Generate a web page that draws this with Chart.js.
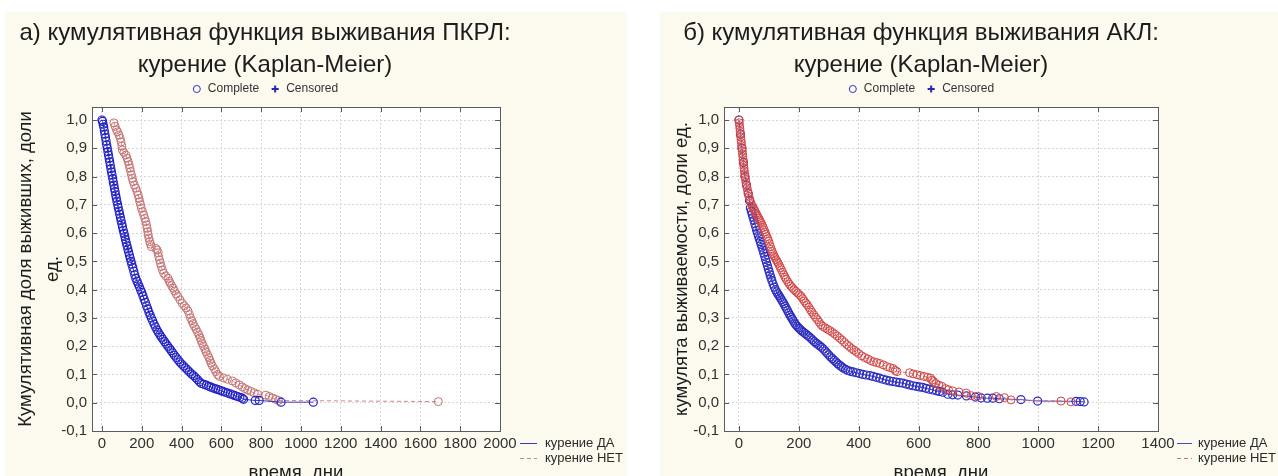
<!DOCTYPE html>
<html><head><meta charset="utf-8">
<script src="https://cdn.jsdelivr.net/npm/chart.js@4.4.0/dist/chart.umd.min.js"></script>
<style>
html,body{margin:0;padding:0;background:#fff;width:1278px;height:476px;overflow:hidden;position:relative;}
.panel{position:absolute;background:#fcf9ee;top:12px;height:464px;}
#pl{left:5px;width:622px;}
#pr{left:660px;width:618px;}
.wrap{position:absolute;top:0;height:490px;}
#wl{left:0;width:640px;}
#wr{left:640px;width:638px;}
</style></head><body>
<div class="panel" id="pl"></div><div class="panel" id="pr"></div>
<div class="wrap" id="wl"><canvas id="cl" width="640" height="490"></canvas></div>
<div class="wrap" id="wr"><canvas id="cr" width="638" height="490"></canvas></div>
<script>
// ---------- texts ----------
const titleLeft = ['а) кумулятивная функция выживания ПКРЛ:', 'курение (Kaplan-Meier)'];
const titleRight = ['б) кумулятивная функция выживания АКЛ:', 'курение (Kaplan-Meier)'];
const yTitleLeft = ['Кумулятивная доля выживших, доли', 'ед.'];
const yTitleRight = 'кумулята выживаемости, доли ед.';
const xTitle = 'время, дни';
const seriesLabels = ['курение ДА', 'курение НЕТ'];
const markerLabels = ['Complete', 'Censored'];

// ---------- ticks ----------
const yTicks = [-0.1, 0, 0.1, 0.2, 0.3, 0.4, 0.5, 0.6, 0.7, 0.8, 0.9, 1.0];
const xTicksLeft = [0, 200, 400, 600, 800, 1000, 1200, 1400, 1600, 1800, 2000];
const xTicksRight = [0, 200, 400, 600, 800, 1000, 1200, 1400];

// ---------- data: [days, survival] ----------
const leftYes = [[0,1.0],[3,0.995],[6,0.985],[9,0.975],[12,0.962],[15,0.95],[18,0.938],[21,0.925],[24,0.912],[27,0.9],
[30,0.888],[33,0.876],[36,0.864],[39,0.852],[42,0.84],[45,0.828],[48,0.816],[51,0.805],[54,0.793],[57,0.781],
[60,0.77],[63,0.758],[66,0.747],[69,0.735],[72,0.724],[75,0.713],[79,0.701],[82,0.69],[86,0.678],[89,0.667],
[93,0.655],[96,0.644],[100,0.633],[103,0.622],[107,0.61],[111,0.599],[115,0.588],[118,0.577],[122,0.566],[126,0.555],
[130,0.544],[134,0.533],[138,0.522],[142,0.511],[146,0.5],[150,0.49],[155,0.478],[160,0.465],[165,0.452],[170,0.44],
[176,0.43],[182,0.42],[188,0.41],[194,0.4],[200,0.39],[206,0.378],[212,0.366],[218,0.355],[224,0.343],[230,0.332],
[236,0.32],[242,0.31],[248,0.3],[255,0.289],[262,0.278],[269,0.268],[276,0.258],[283,0.249],[291,0.24],[299,0.232],
[307,0.224],[315,0.216],[323,0.208],[331,0.2],[340,0.192],[348,0.184],[356,0.176],[364,0.168],[373,0.16],[382,0.152],
[391,0.144],[400,0.137],[410,0.13],[420,0.123],[430,0.116],[440,0.109],[450,0.102],[460,0.096],[470,0.089],[480,0.082],
[490,0.074],[500,0.068],[512,0.065],[525,0.062],[537,0.058],[548,0.055],[560,0.052],[572,0.049],[584,0.046],[596,0.043],
[608,0.04],[620,0.037],[632,0.034],[645,0.031],[657,0.028],[669,0.025],[681,0.022],[693,0.019],[705,0.016],[712,0.012],
[770,0.008],[790,0.008],[900,0.002],[1062,0.002]];

const leftNo = [[60,0.99],[66,0.978],[73,0.965],[78,0.958],[86,0.947],[92,0.935],[96,0.922],[100,0.908],[103,0.894],[110,0.885],
[120,0.876],[126,0.865],[132,0.853],[136,0.842],[140,0.83],[144,0.818],[148,0.806],[152,0.794],[157,0.782],[163,0.77],
[170,0.759],[176,0.747],[182,0.735],[186,0.723],[190,0.711],[194,0.7],[198,0.688],[204,0.676],[210,0.664],[215,0.652],
[220,0.641],[224,0.629],[227,0.617],[230,0.605],[232,0.594],[236,0.582],[240,0.57],[244,0.561],[248,0.552],[270,0.546],
[277,0.54],[282,0.53],[285,0.517],[289,0.505],[293,0.494],[298,0.482],[304,0.47],[310,0.458],[320,0.449],[332,0.44],
[338,0.43],[343,0.423],[350,0.414],[358,0.405],[365,0.395],[373,0.385],[382,0.376],[392,0.364],[403,0.352],[413,0.343],
[423,0.335],[432,0.325],[440,0.312],[445,0.3],[452,0.29],[458,0.28],[465,0.27],[473,0.26],[480,0.25],[487,0.24],
[493,0.23],[498,0.22],[504,0.21],[510,0.2],[517,0.19],[523,0.18],[530,0.17],[537,0.16],[543,0.15],[548,0.14],
[555,0.13],[565,0.12],[572,0.11],[580,0.1],[590,0.093],[610,0.088],[630,0.083],[655,0.077],[672,0.07],[690,0.063],
[705,0.056],[718,0.05],[732,0.045],[748,0.04],[765,0.035],[782,0.03],[823,0.027],[840,0.022],[857,0.017],[872,0.012],
[887,0.008],[1690,0.004]];

const rightYes = [[0,1.0],[5,0.95],[10,0.9],[15,0.85],[20,0.8],[25,0.77],[31,0.74],[35,0.715],[38,0.69],[41,0.678],
[44,0.667],[47,0.656],[50,0.645],[53,0.633],[56,0.622],[59,0.61],[62,0.6],[65,0.59],[68,0.58],[71,0.57],
[74,0.56],[77,0.55],[80,0.54],[83,0.529],[86,0.518],[89,0.507],[92,0.496],[95,0.485],[98,0.474],[101,0.463],
[104,0.452],[107,0.442],[110,0.432],[114,0.42],[118,0.409],[122,0.4],[126,0.392],[130,0.385],[134,0.378],[138,0.371],
[142,0.364],[146,0.357],[150,0.35],[154,0.342],[158,0.334],[162,0.326],[166,0.318],[170,0.31],[174,0.303],[178,0.296],
[182,0.289],[186,0.282],[190,0.276],[195,0.27],[200,0.264],[205,0.259],[210,0.254],[216,0.249],[222,0.244],[228,0.239],
[234,0.234],[240,0.228],[246,0.222],[252,0.216],[258,0.211],[264,0.206],[270,0.201],[276,0.196],[282,0.19],[288,0.183],
[294,0.176],[300,0.169],[306,0.162],[312,0.156],[318,0.15],[324,0.144],[330,0.138],[336,0.133],[342,0.128],[348,0.123],
[356,0.118],[364,0.114],[372,0.111],[381,0.109],[392,0.106],[403,0.103],[414,0.1],[425,0.098],[437,0.096],[448,0.093],
[459,0.09],[470,0.087],[481,0.083],[492,0.08],[503,0.077],[514,0.075],[525,0.073],[536,0.071],[548,0.069],[559,0.066],
[570,0.063],[581,0.06],[592,0.058],[603,0.056],[614,0.054],[625,0.051],[636,0.048],[648,0.045],[660,0.042],[670,0.04],
[681,0.037],[698,0.03],[714,0.028],[731,0.027],[760,0.024],[790,0.02],[809,0.017],[830,0.016],[848,0.016],[870,0.014],
[942,0.011],[998,0.006],[1126,0.005],[1140,0.004],[1153,0.003]];

const rightNo = [[0,1.0],[1,0.99],[2,0.98],[3,0.97],[4,0.96],[5,0.95],[6,0.94],[7,0.93],[8,0.92],[9,0.91],
[10,0.9],[11,0.89],[12,0.88],[13,0.87],[14,0.86],[15,0.85],[16,0.84],[17,0.83],[18,0.82],[19,0.81],
[20,0.8],[22,0.79],[23,0.78],[25,0.77],[27,0.76],[29,0.75],[31,0.74],[33,0.73],[36,0.72],[39,0.71],
[42,0.7],[45,0.695],[48,0.688],[51,0.683],[54,0.677],[57,0.67],[60,0.664],[63,0.658],[66,0.652],[69,0.646],
[72,0.64],[75,0.634],[78,0.627],[81,0.62],[84,0.612],[87,0.604],[90,0.596],[93,0.588],[96,0.58],[99,0.572],
[102,0.562],[105,0.552],[108,0.543],[111,0.535],[114,0.527],[117,0.52],[120,0.514],[124,0.506],[128,0.499],[131,0.493],
[135,0.485],[138,0.478],[142,0.47],[146,0.461],[150,0.452],[154,0.444],[158,0.436],[163,0.428],[168,0.42],[173,0.413],
[178,0.407],[184,0.4],[190,0.394],[196,0.388],[202,0.382],[208,0.376],[213,0.368],[218,0.36],[223,0.353],[228,0.346],
[234,0.337],[239,0.328],[244,0.32],[250,0.311],[256,0.302],[262,0.294],[268,0.285],[274,0.276],[280,0.27],[288,0.265],
[296,0.26],[304,0.255],[312,0.249],[320,0.243],[328,0.236],[336,0.229],[344,0.222],[352,0.214],[360,0.206],[368,0.199],
[376,0.192],[384,0.186],[392,0.18],[400,0.174],[410,0.166],[420,0.16],[430,0.155],[440,0.149],[450,0.145],[460,0.142],
[470,0.139],[482,0.134],[494,0.128],[505,0.124],[515,0.121],[522,0.114],[528,0.11],[570,0.106],[582,0.102],[595,0.099],
[606,0.096],[618,0.093],[630,0.09],[640,0.087],[645,0.08],[650,0.075],[658,0.068],[668,0.062],[678,0.058],[690,0.05],
[700,0.046],[714,0.042],[735,0.038],[759,0.034],[776,0.025],[798,0.023],[860,0.022],[887,0.018],[909,0.01],[1076,0.006],
[1109,0.003]];

// ---------- helpers ----------
const FONT = "'Liberation Sans', Arial, sans-serif";
Chart.defaults.font.family = FONT;
const toPts = arr => arr.map(p => ({x: p[0], y: p[1]}));

const framePlugin = {
  id: 'frame',
  beforeDraw(chart) {
    const {ctx, chartArea: a} = chart;
    ctx.save();
    ctx.fillStyle = '#ffffff';
    ctx.fillRect(a.left, a.top, a.right - a.left, a.bottom - a.top);
    ctx.restore();
  },
  beforeDatasetsDraw(chart) {
    const {ctx, chartArea: a, scales} = chart;
    const x = scales.x, y = scales.y;
    ctx.save();
    ctx.strokeStyle = '#5c5c5c';
    ctx.lineWidth = 1;
    ctx.setLineDash([]);
    ctx.strokeRect(Math.round(a.left) + 0.5, Math.round(a.top) + 0.5, Math.round(a.right - a.left), Math.round(a.bottom - a.top));
    ctx.beginPath();
    x.ticks.forEach(t => {
      const px = Math.round(x.getPixelForValue(t.value)) + 0.5;
      ctx.moveTo(px, a.bottom); ctx.lineTo(px, a.bottom - 5);
      ctx.moveTo(px, a.top); ctx.lineTo(px, a.top + 5);
    });
    y.ticks.forEach(t => {
      const py = Math.round(y.getPixelForValue(t.value)) + 0.5;
      ctx.moveTo(a.left, py); ctx.lineTo(a.left + 5, py);
      ctx.moveTo(a.right, py); ctx.lineTo(a.right - 5, py);
    });
    ctx.stroke();
    ctx.restore();
  },
  afterDraw(chart) {
    const o = chart.options.plugins.frame;
    const {ctx} = chart;
    ctx.save();
    ctx.font = '13px ' + FONT;
    ctx.textBaseline = 'middle';
    ctx.textAlign = 'left';
    chart.data.datasets.forEach((ds, i) => {
      const yy = o.legY + i * 15 + 0.5;
      ctx.strokeStyle = ds.borderColor;
      ctx.lineWidth = 1;
      ctx.setLineDash(ds.borderDash || []);
      ctx.beginPath();
      ctx.moveTo(o.legX, yy); ctx.lineTo(o.legX + o.legLen, yy);
      ctx.stroke();
      ctx.fillStyle = '#2a2a2a';
      ctx.fillText(ds.label, o.legX + o.legLen + o.legGap, o.legY + i * 15);
    });
    ctx.restore();
  }
};

function makeChart(id, c) {
  const gridCommon = {color: '#d6d6d6', lineWidth: 1, drawTicks: false};
  const borderCommon = {display: false, dash: [2, 2]};
  return new Chart(document.getElementById(id), {
    type: 'scatter',
    data: {
      datasets: [
        {label: seriesLabels[0], data: toPts(c.yes), showLine: true, borderColor: c.yesLine, borderWidth: 1,
         pointRadius: 4, pointBorderWidth: 1.2, pointBorderColor: c.yesPt, pointBackgroundColor: 'rgba(0,0,0,0)',
         xAxisID: 'x', yAxisID: 'y', order: c.yesOrder},
        {label: seriesLabels[1], data: toPts(c.no), showLine: true, borderColor: c.noLine, borderWidth: 1, borderDash: [4, 3],
         pointRadius: 4, pointBorderWidth: 1, pointBorderColor: c.noPt, pointBackgroundColor: 'rgba(0,0,0,0)',
         xAxisID: 'x', yAxisID: 'y', order: c.noOrder}
      ]
    },
    options: {
      responsive: false, animation: false, devicePixelRatio: 1, events: [],
      layout: {padding: {left: 0, right: c.padR, top: 0, bottom: 0}},
      plugins: {
        title: {display: true, text: c.title, color: '#1c1c1c',
                font: {size: 24, weight: 'normal', lineHeight: 32 / 24}, padding: {top: 17, bottom: -9}},
        legend: {display: true, position: 'top',
          labels: {usePointStyle: true, boxWidth: 10, boxHeight: 5, padding: 11, color: '#333',
            font: {size: 12},
            generateLabels: () => [
              {text: markerLabels[0], pointStyle: 'circle', strokeStyle: '#3434c4', fillStyle: 'rgba(0,0,0,0)', lineWidth: 1, hidden: false, fontColor: '#333'},
              {text: markerLabels[1], pointStyle: 'cross', strokeStyle: '#2828b8', fillStyle: '#2828b8', lineWidth: 2, hidden: false, fontColor: '#333'}
            ]}},
        tooltip: {enabled: false},
        frame: {legX: c.legX, legY: 443, legLen: c.legLen, legGap: c.legGap}
      },
      scales: {
        x: {type: 'linear', position: 'bottom', min: -50, max: c.xMax,
            afterBuildTicks: s => { s.ticks = c.xTicks.map(v => ({value: v})); },
            afterFit: s => { s.height = 59; },
            grid: gridCommon, border: borderCommon,
            ticks: {font: {size: 15}, color: '#303030', padding: 4, maxRotation: 0, autoSkip: false,
                    callback: v => String(v)},
            title: {display: true, text: xTitle, color: '#1c1c1c', font: {size: 18.5}, padding: {top: 0, bottom: 6}}},
        y: {type: 'linear', position: 'left', min: -0.1, max: 1.046,
            afterBuildTicks: s => { s.ticks = yTicks.map(v => ({value: v})); },
            afterFit: s => { s.width = c.yW; },
            grid: gridCommon, border: borderCommon,
            ticks: {font: {size: 15}, color: '#303030', padding: 5, callback: v => v.toFixed(1).replace('.', ',')},
            title: {display: true, text: c.yTitle, color: '#1c1c1c', font: {size: 18.5, lineHeight: c.yTitleLH},
                    padding: {top: c.yTitlePad, bottom: 0}}},
        xt: {type: 'linear', position: 'top', afterFit: s => { s.height = 2; },
             ticks: {display: false}, grid: {display: false}, border: {display: false}},
        yr: {type: 'linear', position: 'right', afterFit: s => { s.width = c.rightGap; },
             ticks: {display: false}, grid: {display: false}, border: {display: false}}
      }
    },
    plugins: [framePlugin]
  });
}

makeChart('cl', {
  title: titleLeft, yTitle: yTitleLeft, yTitleLH: 27 / 18.5, yTitlePad: 12.5,
  yes: leftYes, no: leftNo, xMax: 2000, xTicks: xTicksLeft,
  yesPt: '#2222c4', yesLine: '#3c3cb4', noPt: '#c47272', noLine: '#d08a8a',
  yesOrder: 0, noOrder: 1,
  padR: 110, rightGap: 30, yW: 92,
  legX: 520, legLen: 17, legGap: 8
});
makeChart('cr', {
  title: titleRight, yTitle: yTitleRight, yTitleLH: 1.2, yTitlePad: 30.9,
  yes: rightYes, no: rightNo, xMax: 1400, xTicks: xTicksRight,
  yesPt: '#2c2cc0', yesLine: '#4a4ab4', noPt: '#d24646', noLine: '#d47070',
  yesOrder: 1, noOrder: 0,
  padR: 76, rightGap: 44, yW: 84,
  legX: 537, legLen: 15, legGap: 6
});
</script>
</body></html>
